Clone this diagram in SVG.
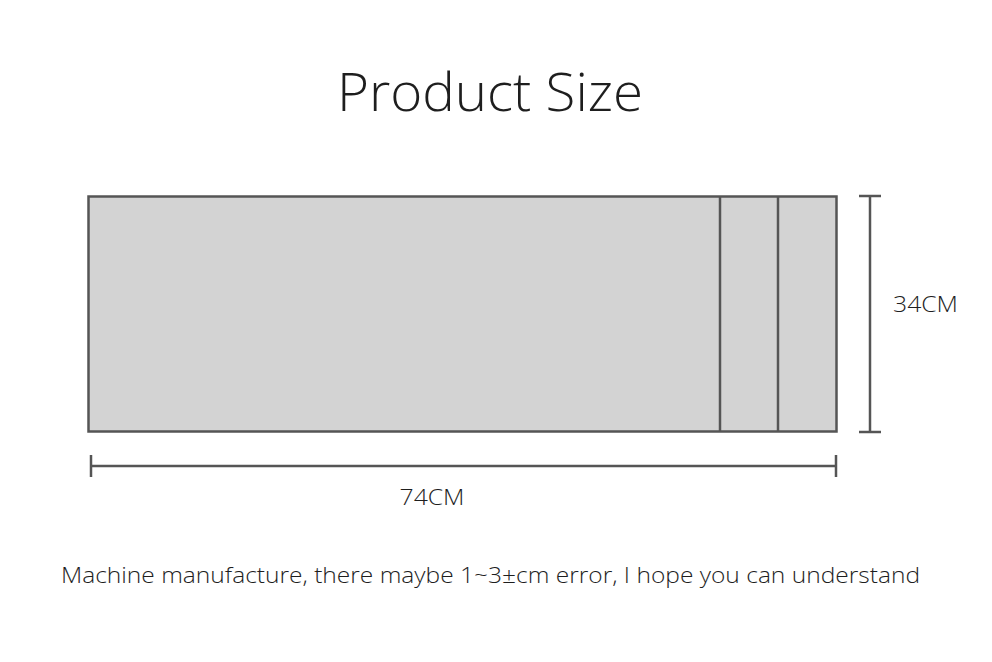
<svg xmlns="http://www.w3.org/2000/svg" width="992" height="662" viewBox="0 0 992 662">
<style>
.ln{stroke:#555;stroke-width:2.5;fill:none}
.t{font-family:"Open Sans","Noto Sans","Liberation Sans",sans-serif;fill:#1e1e1e;font-weight:300}
</style>
<rect width="992" height="662" fill="#fff"/>
<text class="t" x="490" y="111" font-size="54" text-anchor="middle" textLength="306" lengthAdjust="spacingAndGlyphs">Product Size</text>
<g id="product">
<rect x="88.5" y="196.5" width="748" height="235" class="ln" style="fill:#d3d3d3"/>
<line class="ln" x1="720" y1="196" x2="720" y2="432"/>
<line class="ln" x1="778" y1="196" x2="778" y2="432"/>
</g>
<g id="connectors">
<line class="ln" x1="870" y1="196" x2="870" y2="432"/>
<line class="ln" x1="859" y1="196" x2="881" y2="196"/>
<line class="ln" x1="859" y1="432" x2="881" y2="432"/>
<line class="ln" x1="91" y1="466" x2="836" y2="466"/>
<line class="ln" x1="91" y1="455" x2="91" y2="477"/>
<line class="ln" x1="836" y1="455" x2="836" y2="477"/>
</g>
<g id="labels">
<text class="t" x="893" y="312" font-size="22" textLength="65" lengthAdjust="spacingAndGlyphs">34CM</text>
<text class="t" x="432" y="505" font-size="22" text-anchor="middle" textLength="65" lengthAdjust="spacingAndGlyphs">74CM</text>
<text class="t" x="61" y="583" font-size="22" textLength="859" lengthAdjust="spacingAndGlyphs">Machine manufacture, there maybe 1~3±cm error, I hope you can understand</text>
</g>
</svg>
